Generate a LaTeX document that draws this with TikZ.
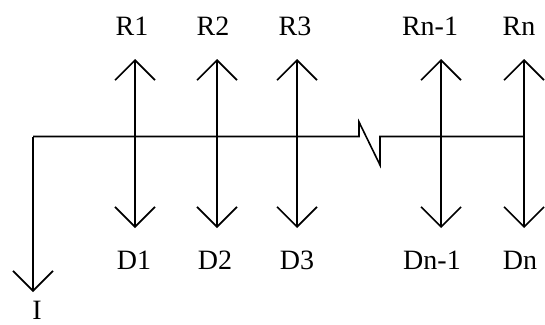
\documentclass[tikz,border=0pt]{standalone}
\usepackage{fontspec}
\setmainfont{Liberation Serif}
\usetikzlibrary{arrows.meta}
\begin{document}
\begin{tikzpicture}[x=1pt,y=-1pt,
  wire/.style={line width=1.6pt,black},
  vee/.style={wire,-{Straight Barb[length=20pt,width=40pt,line width=1.6pt]}},
  dvee/.style={wire,{Straight Barb[length=20pt,width=40pt,line width=1.6pt]}-{Straight Barb[length=20pt,width=40pt,line width=1.6pt]}},
  lbl/.style={font=\fontsize{28}{30}\selectfont,anchor=base,inner sep=0pt}]
\useasboundingbox (0,0) rectangle (545,324);
% junctions and tips
\coordinate (L) at (33,136.5);
\coordinate (Itip) at (33,292);
\foreach \n/\x in {1/135,2/217,3/297,4/441,5/524}{
  \coordinate (t\n) at (\x,59);
  \coordinate (b\n) at (\x,228);
}
\coordinate (za) at (359,136.5);
\coordinate (zb) at (359,122);
\coordinate (zc) at (380,165);
\coordinate (zd) at (380,136.5);
\coordinate (E) at (524,136.5);
% main bus with break
\draw[wire] (L) -- (za) -- (zb) -- (zc) -- (zd) -- (E);
% input arrow
\draw[vee] (L) -- (Itip);
% double arrows
\foreach \n in {1,2,3,4,5}{\draw[dvee] (t\n) -- (b\n);}
% labels
\node[lbl] (R1) at (132,35) {R1};
\node[lbl] (R2) at (213,35) {R2};
\node[lbl] (R3) at (295,35) {R3};
\node[lbl] (Rn1) at (430,35) {Rn-1};
\node[lbl] (Rn) at (519,35) {Rn};
\node[lbl] (D1) at (134,269) {D1};
\node[lbl] (D2) at (215,269) {D2};
\node[lbl] (D3) at (297,269) {D3};
\node[lbl] (Dn1) at (432,269) {Dn-1};
\node[lbl] (Dn) at (520,269) {Dn};
\node[lbl] (I) at (37,319) {I};
\end{tikzpicture}
\end{document}
